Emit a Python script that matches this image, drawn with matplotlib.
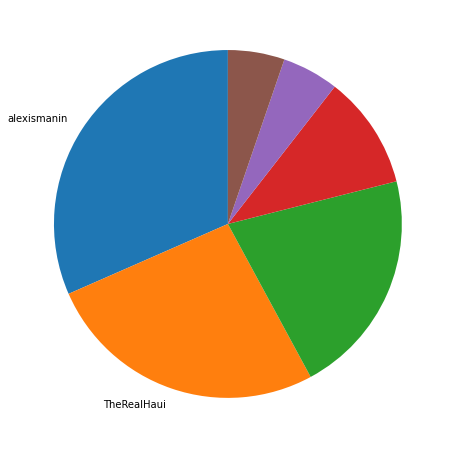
import matplotlib
matplotlib.use("Agg")
import matplotlib.pyplot as plt

# commits per author
authors = ['alexismanin', 'TheRealHaui', '', '', '', '']
counts = [6, 5, 4, 2, 1, 1]

fig = plt.figure(figsize=(452 / 72, 449 / 72), dpi=72)
ax = fig.add_axes([0.0232, 0.0167, 0.962, 0.969])
ax.pie(counts, labels=authors, startangle=90)

plt.savefig('out.png', dpi=72, facecolor='white')
